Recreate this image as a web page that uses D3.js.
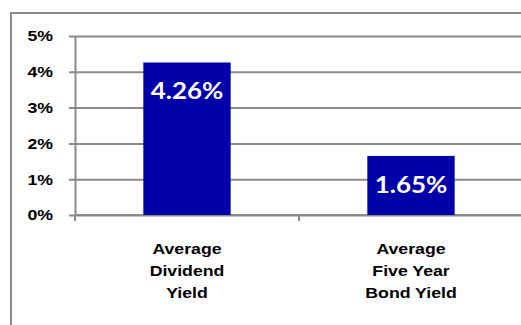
<!DOCTYPE html>
<html>
<head>
<meta charset="utf-8">
<script src="https://cdn.jsdelivr.net/npm/d3@7"></script>
<style>
  body { margin: 0; background: #fff; }
  svg { display: block; }
</style>
</head>
<body>
<div class="chart"></div>
<script>
// chart data
var categories = ["Average Dividend Yield", "Average Five Year Bond Yield"];
var categoryLines = [["Average", "Dividend", "Yield"], ["Average", "Five Year", "Bond Yield"]];
var yields = [4.26, 1.65];
var yTicks = [0, 1, 2, 3, 4, 5];

var svgWidth = 521;
var svgHeight = 325;
var stretch = 1.18; // the source picture is a little wider than tall

var svg = d3.select(".chart")
  .append("svg")
  .attr("width", svgWidth)
  .attr("height", svgHeight);

// outer frame (runs off the right and bottom edges)
svg.append("rect")
  .attr("x", 11)
  .attr("y", 13)
  .attr("width", 600)
  .attr("height", 400)
  .attr("fill", "none")
  .attr("stroke", "#8c8c8c")
  .attr("stroke-width", 2);

var plotLeft = 75;
var plotRight = 523;

var x = d3.scaleBand()
  .domain(categories)
  .range([plotLeft, plotRight])
  .paddingInner(0.61)
  .paddingOuter(0.305);

var y = d3.scaleLinear()
  .domain([0, 5])
  .range([215, 36]);

// gridlines, starting at the tick marks left of the axis
svg.append("g")
  .attr("transform", "translate(69,0)")
  .call(d3.axisLeft(y).tickValues(yTicks).tickSize(-470).tickFormat(""))
  .call(g => g.select(".domain").remove())
  .call(g => g.selectAll("line").attr("stroke", "#8a8a8a").attr("stroke-width", 2));

// x axis with tick between categories
var xAxis = svg.append("g")
  .attr("transform", "translate(0,215)");
xAxis.append("line")
  .attr("x1", plotLeft).attr("x2", 530)
  .attr("stroke", "#8a8a8a").attr("stroke-width", 2);
xAxis.selectAll(".sep")
  .data([plotLeft, (x(categories[0]) + x.bandwidth() + x(categories[1])) / 2])
  .enter()
  .append("line")
  .attr("x1", d => d).attr("x2", d => d)
  .attr("y1", 0).attr("y2", 6)
  .attr("stroke", "#8a8a8a").attr("stroke-width", 2);

// y axis line and labels
var yAxis = svg.append("g")
  .attr("transform", `translate(${plotLeft},0)`)
  .call(d3.axisLeft(y).tickValues(yTicks).tickSize(0).tickFormat(d => d + "%"));
yAxis.select(".domain").attr("stroke", "#8a8a8a").attr("stroke-width", 2);
yAxis.selectAll("text")
  .attr("x", -22 / stretch)
  .attr("transform", `scale(${stretch},1)`)
  .attr("font-family", "Liberation Sans, Arial, sans-serif")
  .attr("font-weight", "bold")
  .attr("font-size", 15)
  .attr("fill", "#000");

// bars
svg.selectAll(".bar")
  .data(yields)
  .enter()
  .append("rect")
  .attr("class", "bar")
  .attr("x", (d, i) => x(categories[i]))
  .attr("y", d => y(d))
  .attr("width", x.bandwidth())
  .attr("height", d => y(0) - y(d))
  .attr("fill", "#0000aa");

// value labels inside the bar top
svg.selectAll(".value")
  .data(yields)
  .enter()
  .append("text")
  .attr("class", "value")
  .attr("transform", (d, i) => `translate(${x(categories[i]) + x.bandwidth() / 2},${y(d) + 37}) scale(${stretch},1)`)
  .attr("text-anchor", "middle")
  .attr("font-family", "Lato, sans-serif")
  .attr("font-weight", "bold")
  .attr("font-size", 22)
  .attr("fill", "#fff")
  .text(d => d.toFixed(2) + "%");

// category labels
categoryLines.forEach(function(lines, i) {
  var cx = x(categories[i]) + x.bandwidth() / 2;
  lines.forEach(function(line, j) {
    svg.append("text")
      .attr("transform", `translate(${cx},${254 + j * 21.8}) scale(${stretch},1)`)
      .attr("text-anchor", "middle")
      .attr("font-family", "Liberation Sans, Arial, sans-serif")
      .attr("font-weight", "bold")
      .attr("font-size", 15)
      .attr("fill", "#000")
      .text(line);
  });
});
</script>
</body>
</html>
